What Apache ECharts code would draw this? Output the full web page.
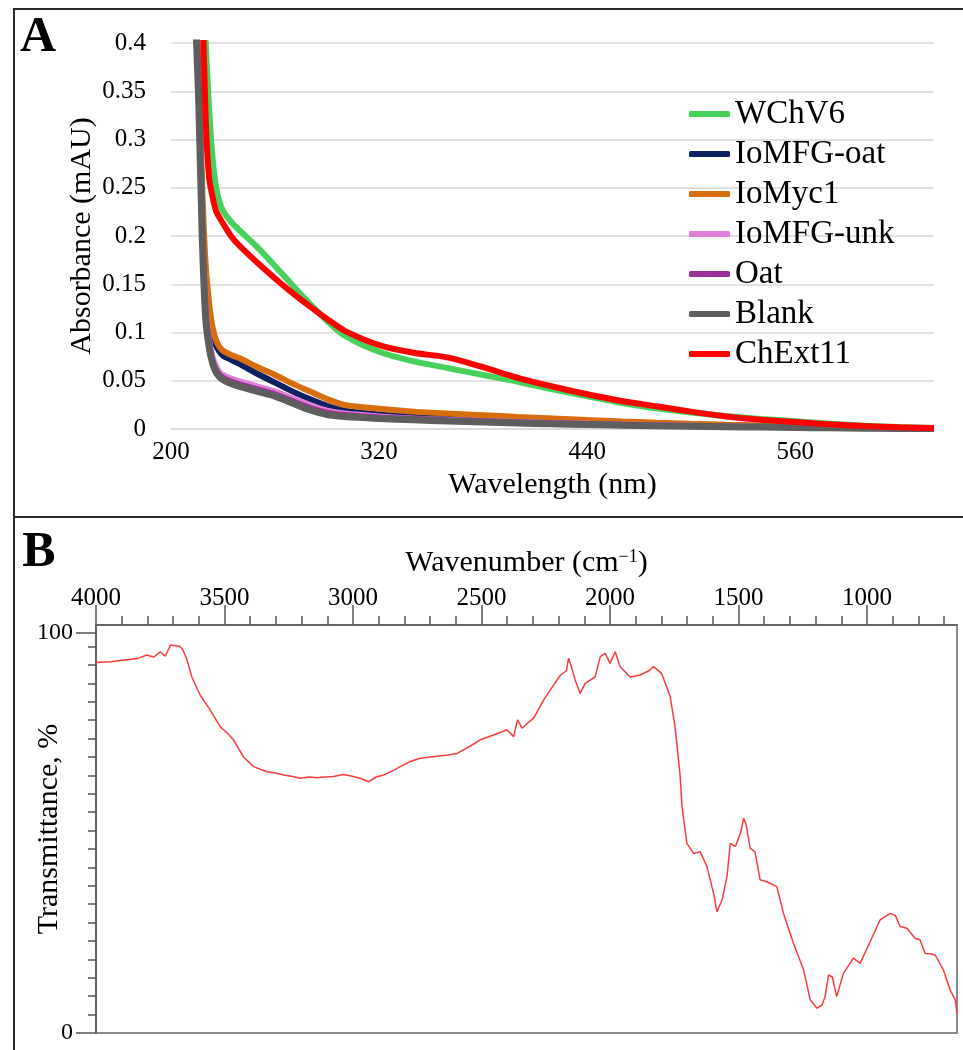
<!DOCTYPE html>
<html>
<head>
<meta charset="utf-8">
<script src="https://cdn.jsdelivr.net/npm/echarts@6/dist/echarts.min.js"></script>
<style>
  html, body { margin: 0; padding: 0; background: #fff; }
  #chart { width: 963px; height: 1050px; }
</style>
</head>
<body>
<div id="chart"></div>
<script>
// Panel A: UV-vis absorbance
var wl = [212, 214, 216, 218, 220, 222, 224, 226, 228, 230, 235, 240, 250, 260, 270, 280, 290, 300,
          320, 340, 360, 380, 400, 420, 440, 460, 480, 500, 520, 540, 560, 580, 600, 620, 640];
var wchv6 = [0.9, 0.7, 0.55, 0.46, 0.40, 0.33, 0.28, 0.25, 0.235, 0.226, 0.214, 0.205, 0.188, 0.169, 0.149, 0.13, 0.112, 0.097,
             0.08, 0.07, 0.063, 0.056, 0.049, 0.041, 0.034, 0.027, 0.0215, 0.017, 0.0135, 0.0105, 0.008, 0.0055, 0.0035, 0.002, 0.001];
var iomfgOat = [0.64, 0.46, 0.36, 0.23, 0.14, 0.11, 0.095, 0.086, 0.08, 0.076, 0.0715, 0.067, 0.057, 0.048, 0.039, 0.031, 0.024, 0.019,
                0.015, 0.0128, 0.0112, 0.0098, 0.0086, 0.0075, 0.0065, 0.0056, 0.0048, 0.0041, 0.0034, 0.0028, 0.0023, 0.0018, 0.0013, 0.0009, 0.0006];
var ioMyc1 = [0.65, 0.47, 0.37, 0.25, 0.17, 0.13, 0.105, 0.092, 0.085, 0.081, 0.0765, 0.073, 0.064, 0.056, 0.047, 0.039, 0.031, 0.025,
              0.021, 0.018, 0.016, 0.0143, 0.0125, 0.011, 0.0093, 0.0078, 0.0065, 0.0054, 0.0045, 0.0037, 0.003, 0.0024, 0.0017, 0.0011, 0.0007];
var iomfgUnk = [0.63, 0.45, 0.35, 0.215, 0.125, 0.092, 0.074, 0.065, 0.059, 0.056, 0.052, 0.049, 0.044, 0.039, 0.032, 0.025, 0.019, 0.016,
                0.013, 0.011, 0.0095, 0.0083, 0.0072, 0.0062, 0.0054, 0.0046, 0.004, 0.0034, 0.0028, 0.0023, 0.0019, 0.0015, 0.0011, 0.0008, 0.0005];
var oat = [0.63, 0.45, 0.35, 0.21, 0.12, 0.088, 0.07, 0.061, 0.056, 0.053, 0.049, 0.046, 0.041, 0.036, 0.029, 0.022, 0.017, 0.0145,
           0.012, 0.0105, 0.009, 0.008, 0.007, 0.006, 0.0052, 0.0045, 0.0038, 0.0032, 0.0027, 0.0022, 0.0018, 0.0014, 0.001, 0.0007, 0.0005];
var blank = [0.62, 0.44, 0.34, 0.2, 0.115, 0.085, 0.068, 0.059, 0.054, 0.051, 0.047, 0.044, 0.039, 0.034, 0.027, 0.02, 0.015, 0.013,
             0.011, 0.0095, 0.0082, 0.0072, 0.0062, 0.0054, 0.0047, 0.004, 0.0034, 0.0029, 0.0024, 0.002, 0.0016, 0.0012, 0.0009, 0.0006, 0.0004];
var chext11 = [0.9, 0.7, 0.55, 0.45, 0.32, 0.26, 0.24, 0.226, 0.219, 0.213, 0.199, 0.189, 0.172, 0.156, 0.141, 0.127, 0.114, 0.102,
               0.087, 0.079, 0.074, 0.064, 0.053, 0.044, 0.036, 0.029, 0.0235, 0.018, 0.013, 0.0095, 0.0073, 0.0048, 0.003, 0.0018, 0.001];

var seriesNames = ['WChV6', 'IoMFG-oat', 'IoMyc1', 'IoMFG-unk', 'Oat', 'Blank', 'ChExt11'];
var seriesColors = ['#47d15b', '#0e2163', '#d76d0c', '#e07fd8', '#9c3199', '#5e5e5e', '#ff0000'];
var seriesValues = [wchv6, iomfgOat, ioMyc1, iomfgUnk, oat, blank, chext11];

// Panel B: FTIR transmittance
var wavenumber = [4000, 3943, 3880, 3840, 3802, 3775, 3750, 3730, 3710, 3690, 3672, 3660, 3646, 3627, 3595, 3556, 3517, 3490,
  3465, 3426, 3387, 3335, 3300, 3270, 3240, 3205, 3170, 3140, 3110, 3075, 3040, 3011, 2972, 2940, 2910, 2881, 2850, 2816,
  2780, 2738, 2700, 2660, 2630, 2595, 2550, 2505, 2453, 2401, 2375, 2360, 2342, 2320, 2297, 2258, 2232, 2193, 2170, 2161,
  2150, 2136, 2116, 2097, 2058, 2038, 2019, 2000, 1980, 1961, 1922, 1883, 1850, 1831, 1799, 1766, 1747, 1727, 1720, 1701,
  1675, 1649, 1623, 1597, 1584, 1564, 1545, 1532, 1512, 1490, 1480, 1470, 1455, 1436, 1416, 1390, 1351, 1325, 1286, 1247,
  1221, 1195, 1175, 1163, 1150, 1144, 1135, 1118, 1092, 1053, 1027, 988, 949, 910, 890, 871, 845, 813, 794, 774, 755, 735,
  703, 677, 657, 650];
var transmittance = [92.6, 92.8, 93.3, 93.6, 94.5, 94.0, 95.3, 94.2, 97.0, 96.8, 96.6, 95.5, 93.3, 89.0, 84.5, 80.8, 76.6, 75.0,
  73.3, 69.0, 66.6, 65.3, 65.0, 64.5, 64.2, 63.7, 64.0, 63.8, 64.0, 64.1, 64.6, 64.3, 63.7, 62.8, 64.0, 64.5, 65.4, 66.6,
  67.8, 68.7, 69.0, 69.3, 69.5, 69.9, 71.5, 73.3, 74.5, 75.8, 74.1, 78.3, 76.2, 77.5, 78.7, 83.3, 85.8, 89.5, 90.5, 93.7,
  91.5, 88.3, 84.9, 87.4, 89.0, 94.1, 94.9, 92.4, 95.3, 91.6, 89.0, 89.5, 90.5, 91.6, 89.9, 84.1, 76.6, 64.1, 56.6, 47.4,
  44.9, 45.3, 41.6, 34.9, 30.3, 33.3, 39.1, 47.4, 46.6, 50.5, 53.7, 52.0, 46.2, 45.3, 38.3, 37.8, 36.6, 29.9, 22.4, 15.8,
  8.3, 6.2, 7.0, 9.1, 14.5, 14.9, 14.0, 9.1, 14.9, 18.7, 17.4, 22.8, 28.3, 29.9, 29.4, 26.6, 26.2, 23.7, 23.3, 19.9, 19.8, 19.5,
  15.8, 10.8, 8.3, 4.9];

var wnMajorTicks = [1000, 1500, 2000, 2500, 3000, 3500, 4000];
var wnMinorTicks = [700, 800, 900, 1100, 1200, 1300, 1400, 1600, 1700, 1800, 1900, 2100, 2200, 2300, 2400,
  2600, 2700, 2800, 2900, 3100, 3200, 3300, 3400, 3600, 3700, 3800, 3900];
var tMajorTicks = [0, 100];
var tMinorTicks = [4.6, 9.2, 13.8, 18.4, 23, 27.6, 32.2, 36.8, 41.4, 46, 50.6, 55.2, 59.8, 64.4, 69, 73.6, 78.2, 82.8, 87.4, 92, 96.6];

var serif = 'Liberation Serif';
var chart = echarts.init(document.getElementById('chart'));

function pairs(xs, ys) {
    var out = [];
    for (var i = 0; i < xs.length; i++) {
        out.push([xs[i], ys[i]]);
    }
    return out;
}

function plain(v) {
    return String(v);
}

var series = [];
for (var i = 0; i < seriesNames.length; i++) {
    series.push({
        name: seriesNames[i],
        type: 'line',
        xAxisIndex: 0,
        yAxisIndex: 0,
        data: pairs(wl, seriesValues[i]),
        showSymbol: false,
        smooth: 0.25,
        color: seriesColors[i],
        lineStyle: {width: seriesNames[i] === 'Blank' ? 7 : 6, color: seriesColors[i]},
        z: 2 + i
    });
}
series.push({
    name: 'FTIR',
    type: 'line',
    xAxisIndex: 1,
    yAxisIndex: 1,
    data: pairs(wavenumber, transmittance),
    showSymbol: false,
    color: '#ff3b3b',
    lineStyle: {width: 1.5, color: '#ff3b3b'}
});

var option = {
    animation: false,
    backgroundColor: '#fff',
    grid: [
        {left: 171, top: 43, width: 763, height: 386, containLabel: false, outerBoundsMode: 'none'},
        {left: 96, top: 625, width: 861, height: 408, containLabel: false, outerBoundsMode: 'none',
         show: true, borderColor: '#666', borderWidth: 1.5}
    ],
    legend: {
        data: seriesNames,
        orient: 'vertical',
        left: 689,
        top: 97,
        padding: 0,
        itemWidth: 41,
        itemHeight: 6,
        itemGap: 6,
        icon: 'roundRect',
        textStyle: {fontFamily: serif, fontSize: 33, color: '#000', lineHeight: 34}
    },
    xAxis: [
        {
            gridIndex: 0, type: 'value', min: 200, max: 640, interval: 120,
            axisLine: {show: true, onZero: false, lineStyle: {color: '#d9d9d9', width: 1.5}},
            axisTick: {show: false},
            splitLine: {show: false},
            axisLabel: {fontFamily: serif, fontSize: 25, color: '#000', margin: 11, showMaxLabel: false, formatter: plain},
            name: 'Wavelength (nm)', nameLocation: 'middle', nameGap: 41, nameMoveOverlap: false,
            nameTextStyle: {fontFamily: serif, fontSize: 30, color: '#000'}
        },
        {
            gridIndex: 1, type: 'value', position: 'top', inverse: true, min: 650, max: 4000,
            axisLine: {show: true, onZero: false, lineStyle: {color: '#666', width: 2}},
            axisTick: {show: true, customValues: wnMajorTicks, length: 20, lineStyle: {color: '#555', width: 1.5}},
            axisLabel: {customValues: wnMajorTicks, fontFamily: serif, fontSize: 25, color: '#000', margin: 14, formatter: plain},
            splitLine: {show: false},
            name: 'Wavenumber (cm{sup|\u22121})', nameLocation: 'middle', nameGap: 47, nameMoveOverlap: false,
            nameTextStyle: {fontFamily: serif, fontSize: 30, color: '#000',
                rich: {sup: {fontFamily: serif, fontSize: 18, color: '#000', verticalAlign: 'top', padding: [0, 0, 10, 0]}}}
        },
        {
            gridIndex: 1, type: 'value', position: 'top', inverse: true, min: 650, max: 4000,
            axisLine: {show: false, onZero: false},
            axisTick: {show: true, customValues: wnMinorTicks, length: 9, lineStyle: {color: '#555', width: 1.5}},
            axisLabel: {show: false},
            splitLine: {show: false}
        }
    ],
    yAxis: [
        {
            gridIndex: 0, type: 'value', min: 0, max: 0.4, interval: 0.05,
            axisLine: {show: false, onZero: false},
            axisTick: {show: false},
            splitLine: {show: true, lineStyle: {color: '#d9d9d9', width: 1.5}},
            axisLabel: {fontFamily: serif, fontSize: 25, color: '#000', margin: 25},
            name: 'Absorbance (mAU)', nameLocation: 'middle', nameGap: 74, nameRotate: 90, nameMoveOverlap: false,
            nameTextStyle: {fontFamily: serif, fontSize: 30, color: '#000'}
        },
        {
            gridIndex: 1, type: 'value', position: 'left', min: 0, max: 102,
            axisLine: {show: true, onZero: false, lineStyle: {color: '#666', width: 2}},
            axisTick: {show: true, customValues: tMajorTicks, length: 20, lineStyle: {color: '#555', width: 1.5}},
            axisLabel: {customValues: tMajorTicks, fontFamily: serif, fontSize: 24, color: '#000', margin: 23},
            splitLine: {show: false},
            name: 'Transmittance, %', nameLocation: 'middle', nameGap: 32, nameRotate: 90, nameMoveOverlap: false,
            nameTextStyle: {fontFamily: serif, fontSize: 30, color: '#000'}
        },
        {
            gridIndex: 1, type: 'value', position: 'left', min: 0, max: 102,
            axisLine: {show: false, onZero: false},
            axisTick: {show: true, customValues: tMinorTicks, length: 8, lineStyle: {color: '#555', width: 1.5}},
            axisLabel: {show: false},
            splitLine: {show: false}
        }
    ],
    graphic: [
        {type: 'rect', shape: {x: 14, y: 9, width: 980, height: 1080}, style: {fill: 'none', stroke: '#2a2a2a', lineWidth: 2}, silent: true},
        {type: 'line', shape: {x1: 14, y1: 517, x2: 963, y2: 517}, style: {stroke: '#2a2a2a', lineWidth: 2}, silent: true},
        {type: 'text', x: 38, y: 38, style: {text: 'A', font: 'bold 50px "Liberation Serif"', fill: '#000', textAlign: 'center', textVerticalAlign: 'middle'}},
        {type: 'text', x: 39, y: 553, style: {text: 'B', font: 'bold 50px "Liberation Serif"', fill: '#000', textAlign: 'center', textVerticalAlign: 'middle'}}
    ],
    series: series
};

chart.setOption(option);
</script>
</body>
</html>
